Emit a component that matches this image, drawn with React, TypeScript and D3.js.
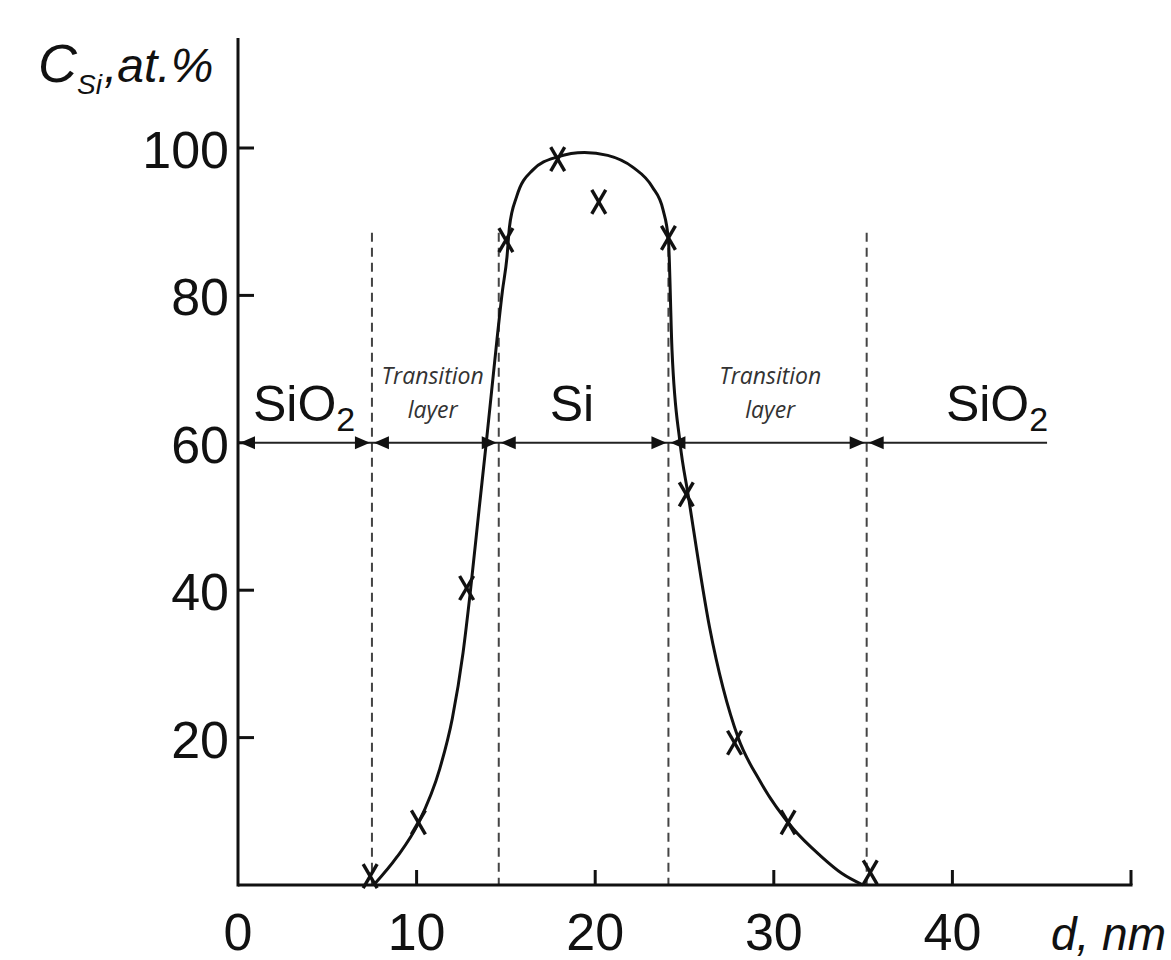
import React from "react";
import * as d3 from "d3";

const W = 1171;
const H = 960;

// x in nm, y in at.%
const curveX = [7.6, 8.9, 10.1, 11.3, 12.0, 12.6, 13.0, 13.5, 13.9, 14.2, 14.5, 14.8, 15.06, 15.2, 15.6, 16.5, 17.9, 19.4, 20.7, 22.1, 23.2, 23.8, 24.1, 24.3, 24.75, 25.2, 26.4, 28.0, 29.2, 31.1, 32.6, 33.8, 35.0];
const curveY = [0, 3.8, 8.4, 15.8, 22.6, 31.5, 39.6, 51, 60, 67, 74, 80.5, 85.2, 89.3, 93.4, 97, 98.8, 99.4, 99.0, 97.4, 94.7, 91.6, 87.5, 72.6, 60, 53, 35, 20, 14.2, 7.6, 4.0, 1.6, 0];

const markX = [7.4, 10.1, 12.8, 15.0, 17.9, 20.2, 24.1, 25.1, 27.8, 30.8, 35.4];
const markY = [1.2, 8.5, 40.3, 87.5, 98.5, 92.7, 87.8, 53.0, 19.3, 8.5, 1.7];

const boundaries = [7.5, 14.6, 24.1, 35.2];
const arrowSegments: [number, number, boolean, boolean][] = [
  [0, 7.5, true, true],
  [7.5, 14.6, true, true],
  [14.6, 24.1, true, true],
  [24.1, 35.2, true, true],
  [35.2, 45.3, true, false],
];
const arrowLevel = 60;
const dashTop = 88.5;

const layerNames = ["SiO", "Transition", "Si", "Transition", "SiO"];
const layerSubs = ["2", "", "", "", "2"];
const layerPos = [3.7, 10.9, 18.7, 29.8, 42.5];

const xTicks = [10, 20, 30, 40, 50];
const xTickLabels = ["0", "10", "20", "30", "40"];
const xTickLabelVals = [0, 10, 20, 30, 40];
const yTicks = [20, 40, 60, 80, 100];

export default function App() {
  const x = d3.scaleLinear().domain([0, 50]).range([238, 1131]);
  const y = d3.scaleLinear().domain([0, 100]).range([885, 148]);
  const yTop = 38;

  const pts: [number, number][] = curveX.map((v, i) => [v, curveY[i]]);
  const line = d3
    .line<[number, number]>()
    .x((d) => x(d[0]))
    .y((d) => y(d[1]))
    .curve(d3.curveMonotoneX);

  const ay = y(arrowLevel);
  const headL = 15;
  const headH = 6.5;
  const gap = 2;

  const arrowHeads: string[] = [];
  arrowSegments.forEach(([a, b, la, ra]) => {
    const xa = x(a) + (a === 0 ? 2 : gap);
    const xb = x(b) - gap;
    if (la) arrowHeads.push(`M${xa},${ay} L${xa + headL},${ay - headH} L${xa + headL},${ay + headH} Z`);
    if (ra) arrowHeads.push(`M${xb},${ay} L${xb - headL},${ay - headH} L${xb - headL},${ay + headH} Z`);
  });

  const fontMain = "'Liberation Sans', Arial, sans-serif";
  const fontSmall = "'Open Sans', 'Noto Sans', sans-serif";

  return (
    <svg width={W} height={H} style={{ position: "absolute", left: 0, top: 0, background: "#fff" }}>
      <rect width={W} height={H} fill="#fff" />
      {/* dashed boundaries */}
      {boundaries.map((b, i) => (
        <line key={"d" + i} x1={x(b)} x2={x(b)} y1={y(dashTop)} y2={y(0)} stroke="#444" strokeWidth={2} strokeDasharray="9,6" />
      ))}
      {/* arrow line */}
      <line x1={x(0)} x2={x(45.3)} y1={ay} y2={ay} stroke="#222" strokeWidth={2} />
      {arrowHeads.map((d, i) => (
        <path key={"h" + i} d={d} fill="#111" />
      ))}
      {/* layer labels */}
      {layerNames.map((n, i) =>
        n === "Transition" ? (
          <g key={"l" + i} fontFamily={fontSmall} fontStyle="italic" fontSize={23} fill="#333" textAnchor="middle">
            <text x={x(layerPos[i])} y={384}>Transition</text>
            <text x={x(layerPos[i])} y={418}>layer</text>
          </g>
        ) : (
          <text key={"l" + i} x={x(layerPos[i])} y={421} fontFamily={fontMain} fontSize={50} fill="#111" textAnchor="middle">
            {n}
            {layerSubs[i] && (
              <tspan fontSize={34} dy={10}>{layerSubs[i]}</tspan>
            )}
          </text>
        )
      )}
      {/* curve */}
      <path d={line(pts) || ""} fill="none" stroke="#111" strokeWidth={3} />
      {/* markers */}
      {markX.map((v, i) => {
        const cx = x(v);
        const cy = y(markY[i]);
        return (
          <g key={"m" + i} stroke="#111" strokeWidth={3.4}>
            <line x1={cx - 7} y1={cy - 12} x2={cx + 7} y2={cy + 12} />
            <line x1={cx + 7} y1={cy - 12} x2={cx - 7} y2={cy + 12} />
          </g>
        );
      })}
      {/* axes */}
      <line x1={x(0)} x2={x(0)} y1={yTop} y2={y(0) + 1.5} stroke="#111" strokeWidth={3} />
      <line x1={x(0)} x2={x(50) + 1.5} y1={y(0)} y2={y(0)} stroke="#111" strokeWidth={3} />
      {xTicks.map((t) => (
        <line key={"xt" + t} x1={x(t)} x2={x(t)} y1={y(0)} y2={y(0) - 15} stroke="#111" strokeWidth={3} />
      ))}
      {yTicks.map((t) => (
        <line key={"yt" + t} x1={x(0)} x2={x(0) + 16} y1={y(t)} y2={y(t)} stroke="#111" strokeWidth={3} />
      ))}
      {xTickLabelVals.map((v, i) => (
        <text key={"xl" + i} x={x(v)} y={950} fontFamily={fontMain} fontSize={52} fill="#111" textAnchor="middle">
          {xTickLabels[i]}
        </text>
      ))}
      {yTicks.map((t) => (
        <text key={"yl" + t} x={229} y={y(t) + 20} fontFamily={fontMain} fontSize={52} fill="#111" textAnchor="end">
          {t}
        </text>
      ))}
      {/* axis titles */}
      <g fontFamily={fontMain} fontStyle="italic" fill="#111">
        <text x={38} y={82} fontSize={54}>C</text>
        <text x={77} y={94} fontSize={28}>Si</text>
        <text x={104} y={82} fontSize={48}>,at.%</text>
        <text x={1166} y={950} fontSize={46} textAnchor="end">d, nm</text>
      </g>
    </svg>
  );
}
